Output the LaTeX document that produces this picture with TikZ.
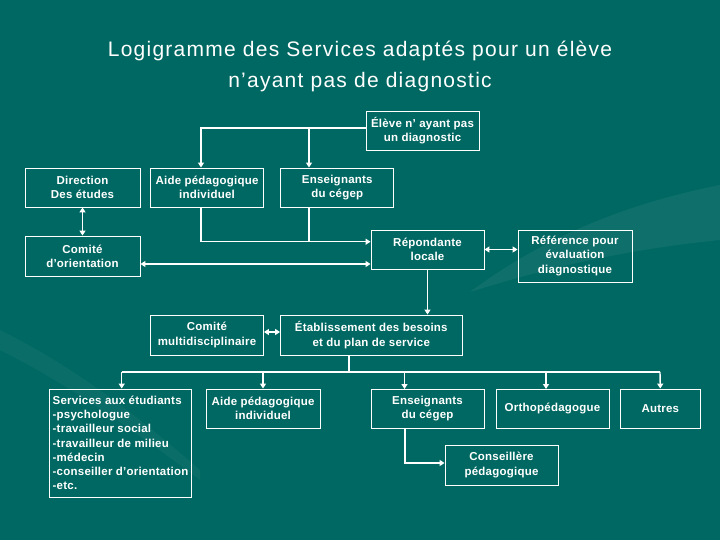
\documentclass[tikz,border=0pt]{standalone}
\usepackage{fontspec}
\setmainfont{Liberation Sans}
\newfontfamily\titlefont{Liberation Sans}[LetterSpace=6]
\newfontfamily\boxfont{Liberation Sans}[LetterSpace=2]
\usetikzlibrary{arrows.meta}
\definecolor{fond}{RGB}{0,104,98}
\tikzset{
  boite/.style={draw=white, line width=0.9pt, text=white, align=center, inner sep=2pt,
    font=\boxfont\bfseries\fontsize{11.5}{14.2}\selectfont},
  trait/.style={white, line width=1.4pt},
  fleche/.style={trait, -{Triangle[length=5pt,width=6pt]}},
  dfleche/.style={trait, {Triangle[length=5pt,width=6pt]}-{Triangle[length=5pt,width=6pt]}},
}

\begin{document}
\begin{tikzpicture}[x=1pt, y=-1pt]
  % Background
  \fill[fond] (0,0) rectangle (720,540);
  \useasboundingbox (0,0) rectangle (720,540);
  \fill[white, opacity=0.06] (470,292) .. controls (540,240) and (620,205) .. (720,185)
    -- (720,240) .. controls (620,250) and (540,270) .. (470,292) -- cycle;
  \fill[white, opacity=0.04] (0,330) .. controls (60,360) and (120,400) .. (200,470)
    -- (200,480) .. controls (120,420) and (60,380) .. (0,350) -- cycle;

  % Title
  \node[text=white, align=center, font=\titlefont\fontsize{21}{31}\selectfont] (titre) at (360,66)
    {Logigramme des Services adaptés pour un élève\\n’ayant pas de diagnostic};

  % Top row
  \node[boite, minimum width=113pt, minimum height=39pt] (eleve) at (422.5,130.5) {Élève n’ ayant pas\\un diagnostic};
  \node[boite, minimum width=115pt, minimum height=39pt] (dir) at (82.5,187.5) {Direction\\Des études};
  \node[boite, minimum width=113pt, minimum height=39pt] (aide1) at (207,187.5) {Aide pédagogique\\individuel};
  \node[boite, minimum width=113pt, minimum height=39pt] (ens1) at (337.25,187.5) {Enseignants\\du cégep};

  % Middle row
  \node[boite, minimum width=115pt, minimum height=40pt] (orient) at (82.5,256) {Comité\\d’orientation};
  \node[boite, minimum width=113pt, minimum height=39pt] (repond) at (427.5,249.5) {Répondante\\locale};
  \node[boite, minimum width=114pt, minimum height=52pt] (ref) at (575,256) {Référence pour\\évaluation\\diagnostique};
  \node[boite, minimum width=113pt, minimum height=40pt] (multi) at (207,335) {Comité\\multidisciplinaire};
  \node[boite, minimum width=181.5pt, minimum height=40pt] (etab) at (371.25,335) {Établissement des besoins\\et du plan de service};

  % Bottom row
  \node[boite, align=left, minimum width=142.5pt, minimum height=108pt] (serv) at (120.5,443)
    {Services aux étudiants\\-psychologue\\-travailleur social\\-travailleur de milieu\\-médecin\\-conseiller d’orientation\\-etc.};
  \node[boite, minimum width=114pt, minimum height=39pt] (aide2) at (263,408.5) {Aide pédagogique\\individuel};
  \node[boite, minimum width=113pt, minimum height=39pt] (ens2) at (427.5,408.5) {Enseignants\\du cégep};
  \node[boite, minimum width=113pt, minimum height=39pt] (ortho) at (552.5,408.5) {Orthopédagogue};
  \node[boite, minimum width=80.5pt, minimum height=39pt] (autres) at (660.3,408.5) {Autres};
  \node[boite, minimum width=113pt, minimum height=40pt] (cons) at (501.5,465) {Conseillère\\pédagogique};

  % Junctions
  \coordinate (c1) at (201,128);
  \coordinate (c2) at (309,128);
  \coordinate (c3) at (201,241.7);
  \coordinate (c4) at (349,372);
  \coordinate (c5) at (121.7,372);
  \coordinate (c6) at (660,372);
  \coordinate (c7) at (405,463);

  % Connections
  \draw[fleche] (eleve.west |- c1) -- (c1) -- (c1 |- aide1.north);
  \draw[fleche] (c2) -- (c2 |- ens1.north);
  \draw[fleche] (c1 |- aide1.south) -- (c3) -- (c3 -| repond.west);
  \draw[trait] (c2 |- ens1.south) -- (c2 |- c3);
  \draw[dfleche] (dir.south) -- (orient.north);
  \draw[dfleche] ([yshift=-8pt]orient.east) -- ([yshift=-8pt]orient.east -| repond.west);
  \draw[dfleche] (repond.east) -- (repond.east -| ref.west);
  \draw[fleche] (repond.south) -- (repond.south |- etab.north);
  \draw[dfleche] ([yshift=3pt]multi.east) -- ([yshift=3pt]etab.west);
  \draw[trait] (c4 |- etab.south) -- (c4);
  \draw[trait] (c5) -- (c6);
  \draw[fleche] (c5) -- (c5 |- serv.north);
  \draw[fleche] (aide2.north |- c5) -- (aide2.north);
  \draw[fleche] (404.5,372) -- (404.5,389);
  \draw[fleche] (546,372) -- (546,389);
  \draw[fleche] (c6) -- (autres.north);
  \draw[fleche] (c7 |- ens2.south) -- (c7) -- (c7 -| cons.west);
\end{tikzpicture}
\end{document}
